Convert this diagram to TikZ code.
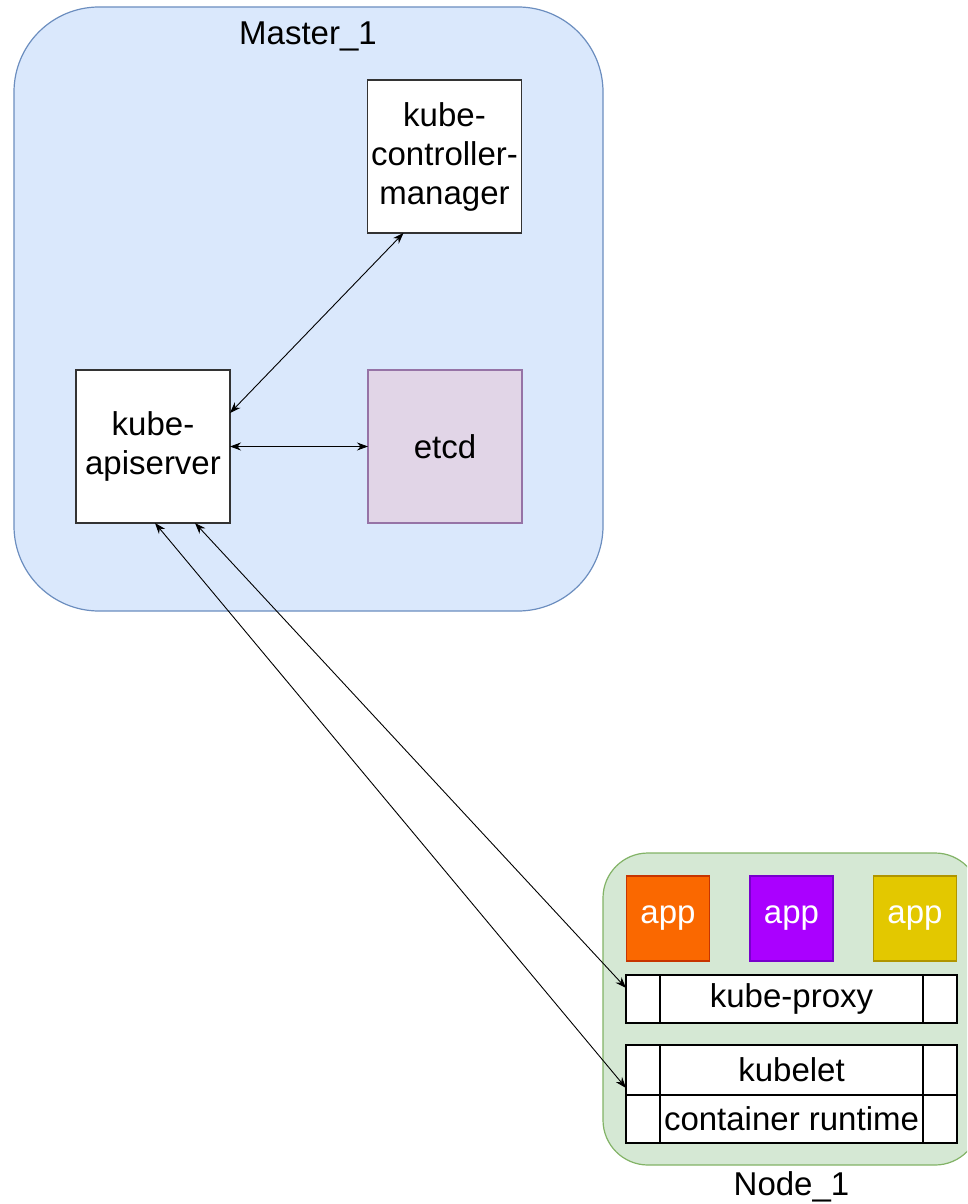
\documentclass[tikz,border=0pt]{standalone}
\usepackage{fontspec}
\setmainfont{Liberation Sans}
\usetikzlibrary{arrows.meta}
\definecolor{mfill}{HTML}{DAE8FC}
\definecolor{mdraw}{HTML}{6C8EBF}
\definecolor{nfill}{HTML}{D5E8D4}
\definecolor{ndraw}{HTML}{82B366}
\definecolor{efill}{HTML}{E1D5E7}
\definecolor{edraw}{HTML}{9673A6}
\definecolor{ofill}{HTML}{FA6800}
\definecolor{odraw}{HTML}{C73500}
\definecolor{pfill}{HTML}{AA00FF}
\definecolor{pdraw}{HTML}{7700CC}
\definecolor{yfill}{HTML}{E3C800}
\definecolor{ydraw}{HTML}{B09500}
\begin{document}
\begin{tikzpicture}[x=1pt,y=-1pt,
  every node/.style={font=\fontsize{33}{39}\selectfont, inner sep=0pt, outer sep=0pt, align=center},
  group/.style={draw=#1, line width=1.2pt},
  wbox/.style={draw=black!80, line width=1.3pt, fill=white, minimum width=154pt, minimum height=153pt},
  appbox/.style={line width=1.2pt, minimum width=83pt, minimum height=85pt, text=white},
  bar/.style={draw=black, line width=1.2pt, fill=white, minimum width=331pt},
  conn/.style={line width=0.9pt, {Stealth[length=11pt,width=8pt]}-{Stealth[length=11pt,width=8pt]}}
]
\clip (0,0) rectangle (967,1204);

% Master
\node[group=mdraw, fill=mfill, rounded corners=85pt, minimum width=589pt, minimum height=604pt] (master) at (308.5,309) {};
\node (mlabel) at (308,36) {Master\_1};

\node[wbox] (ctrl) at (444.5,156.5) {kube-\\controller-\\manager};
\node[wbox] (api) at (153,446.5) {kube-\\apiserver};
\node[wbox, draw=edraw, fill=efill] (etcd) at (445,446.5) {etcd};

% Node
\node[group=ndraw, fill=nfill, rounded corners=45pt, minimum width=377pt, minimum height=312pt] (node) at (791.5,1009) {};
\node (nlabel) at (791.5,1187) {Node\_1};

\node[appbox, draw=odraw, fill=ofill] (app1) at (668,918.5) {app};
\node[appbox, draw=pdraw, fill=pfill] (app2) at (791.5,918.5) {app};
\node[appbox, draw=ydraw, fill=yfill] (app3) at (915,918.5) {app};

\node[bar, minimum height=48pt] (proxy) at (791.5,999) {kube-proxy};
\draw[line width=1.2pt] ([xshift=34pt]proxy.north west) -- ([xshift=34pt]proxy.south west);
\draw[line width=1.2pt] ([xshift=-34pt]proxy.north east) -- ([xshift=-34pt]proxy.south east);

\node[bar, minimum height=50pt] (kubelet) at (791.5,1070) {kubelet};
\node[bar, minimum height=48pt, anchor=north] (runtime) at (kubelet.south) {container runtime};
\draw[line width=1.2pt] ([xshift=34pt]kubelet.north west) -- ([xshift=34pt]runtime.south west);
\draw[line width=1.2pt] ([xshift=-34pt]kubelet.north east) -- ([xshift=-34pt]runtime.south east);

% connectors
\draw[conn] ([yshift=-43pt]api.north east) -- ([xshift=-41pt]ctrl.south);
\draw[conn] (api.east) -- (etcd.west);
\draw[conn] ([xshift=42pt]api.south) -- ([yshift=11pt]proxy.west);
\draw[conn] ([xshift=2pt]api.south) -- ([yshift=-18pt]kubelet.west);
\end{tikzpicture}
\end{document}
